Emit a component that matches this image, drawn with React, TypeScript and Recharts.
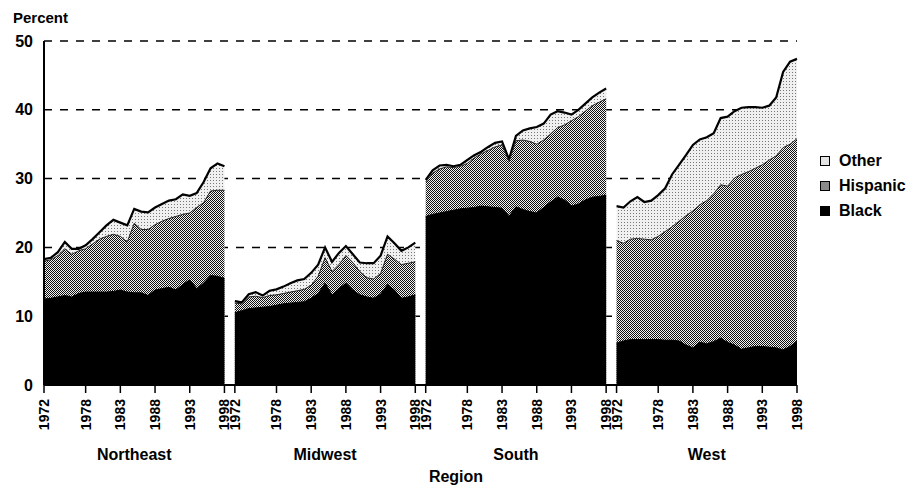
import React from 'react';
import { AreaChart, Area, XAxis, YAxis, CartesianGrid } from 'recharts';

const years = [1972, 1973, 1974, 1975, 1976, 1977, 1978, 1979, 1980, 1981, 1982, 1983, 1984, 1985, 1986, 1987, 1988, 1989, 1990, 1991, 1992, 1993, 1994, 1995, 1996, 1997, 1998];
const tickYears = [1972, 1978, 1983, 1988, 1993, 1998];
const regions = ['Northeast', 'Midwest', 'South', 'West'];
const yTicks = [0, 10, 20, 30, 40, 50];
const seriesNames = ['Other', 'Hispanic', 'Black'];

const northeastBlack = [12.5, 12.6, 12.8, 13.0, 12.8, 13.3, 13.5, 13.5, 13.5, 13.5, 13.6, 13.8, 13.5, 13.4, 13.4, 13.0, 13.8, 14.0, 14.2, 13.8, 14.6, 15.3, 14.0, 14.8, 15.9, 15.8, 15.5];
const northeastHispanic = [5.5, 5.6, 6.0, 6.8, 6.2, 6.2, 6.3, 7.0, 7.7, 8.1, 8.3, 7.8, 7.3, 10.1, 9.2, 9.6, 9.5, 9.8, 10.0, 10.7, 10.2, 9.7, 11.8, 11.7, 12.3, 12.5, 12.8];
const northeastOther = [0.3, 0.3, 0.5, 1.0, 0.8, 0.3, 0.5, 0.7, 1.0, 1.6, 2.1, 2.0, 2.4, 2.1, 2.6, 2.5, 2.5, 2.5, 2.6, 2.5, 2.9, 2.5, 2.1, 3.0, 3.3, 3.9, 3.5];

const midwestBlack = [10.5, 10.8, 11.1, 11.2, 11.3, 11.4, 11.6, 11.8, 11.9, 12.0, 12.1, 12.6, 13.3, 14.8, 13.1, 14.0, 14.8, 13.8, 13.1, 12.8, 12.6, 13.2, 14.6, 13.8, 12.6, 12.8, 13.1];
const midwestHispanic = [1.4, 1.0, 1.7, 1.7, 1.4, 1.6, 1.5, 1.5, 1.6, 1.7, 1.8, 1.9, 2.5, 3.7, 3.4, 3.5, 4.0, 4.0, 3.4, 2.8, 2.8, 3.0, 4.4, 4.5, 4.9, 4.9, 4.8];
const midwestOther = [0.3, 0.2, 0.4, 0.6, 0.3, 0.7, 0.8, 1.0, 1.3, 1.5, 1.5, 1.8, 1.7, 1.5, 1.4, 1.7, 1.4, 1.2, 1.3, 2.1, 2.3, 2.6, 2.6, 2.3, 2.0, 2.3, 2.8];

const southBlack = [24.5, 24.8, 25.0, 25.2, 25.4, 25.6, 25.7, 25.8, 26.0, 25.9, 25.8, 25.7, 24.5, 25.9, 25.5, 25.2, 25.0, 25.8, 26.6, 27.3, 26.9, 26.0, 26.3, 26.9, 27.3, 27.4, 27.6];
const southHispanic = [5.0, 6.0, 6.4, 6.5, 6.2, 6.2, 6.5, 7.2, 7.6, 8.2, 8.8, 9.2, 8.0, 9.6, 10.1, 10.2, 10.0, 9.8, 9.9, 10.1, 10.9, 12.4, 12.7, 12.9, 13.3, 13.7, 14.0];
const southOther = [0.3, 0.4, 0.5, 0.3, 0.2, 0.2, 0.5, 0.4, 0.3, 0.5, 0.6, 0.5, 0.3, 0.7, 1.4, 1.9, 2.5, 2.4, 2.8, 2.4, 1.8, 0.9, 1.0, 1.1, 1.2, 1.4, 1.5];

const westBlack = [6.1, 6.4, 6.6, 6.6, 6.6, 6.6, 6.6, 6.5, 6.5, 6.4, 5.8, 5.4, 6.2, 6.0, 6.3, 6.8, 6.2, 5.8, 5.2, 5.4, 5.6, 5.6, 5.5, 5.4, 5.1, 5.6, 6.4];
const westHispanic = [14.9, 14.2, 14.6, 14.7, 14.6, 14.5, 15.0, 15.8, 16.5, 17.4, 18.8, 19.9, 20.0, 20.8, 21.5, 22.3, 22.7, 24.3, 25.4, 25.6, 25.9, 26.4, 27.2, 27.9, 29.4, 29.4, 29.4];
const westOther = [5.0, 5.2, 5.5, 6.0, 5.4, 5.7, 6.0, 6.3, 7.6, 8.2, 8.8, 9.6, 9.5, 9.2, 8.8, 9.7, 10.1, 9.7, 9.7, 9.4, 8.9, 8.3, 7.9, 8.5, 11.0, 12.0, 11.6];

const regionSeries = [
  { black: northeastBlack, hispanic: northeastHispanic, other: northeastOther },
  { black: midwestBlack, hispanic: midwestHispanic, other: midwestOther },
  { black: southBlack, hispanic: southHispanic, other: southOther },
  { black: westBlack, hispanic: westHispanic, other: westOther },
];

const SPAN = 27.5;
const FIRST = years[0];
const LAST_OFFSET = years[years.length - 1] - FIRST;

type Row = { x: number; black: number | null; hisp: number | null; total: number | null };
const rows: Row[] = [];
regionSeries.forEach((s, r) => {
  years.forEach((yr, i) => {
    const black = s.black[i];
    const hisp = black + s.hispanic[i];
    const total = hisp + s.other[i];
    rows.push({ x: r * SPAN + (yr - FIRST), black, hisp, total });
  });
  if (r < regionSeries.length - 1) {
    rows.push({ x: r * SPAN + LAST_OFFSET + (SPAN - LAST_OFFSET) / 2, black: null, hisp: null, total: null });
  }
});

const xTicks = regions.flatMap((_, r) => tickYears.map((y) => r * SPAN + (y - FIRST)));

const FONT = '"Liberation Sans", Arial, Helvetica, sans-serif';

const XTick = (props: any) => {
  const { x, y, payload } = props;
  const v = payload.value as number;
  const r = Math.floor((v + 0.001) / SPAN);
  const year = Math.round(FIRST + v - r * SPAN);
  return (
    <text
      x={x}
      y={y}
      transform={`rotate(-90, ${x}, ${y})`}
      textAnchor="end"
      dy={5}
      fontSize={14}
      fontWeight={700}
      fontFamily={FONT}
      fill="#000"
    >
      {year}
    </text>
  );
};

const legendFills: Record<string, string> = {
  Other: '#e4e4e4',
  Hispanic: '#8a8a8a',
  Black: '#000',
};

export default function App() {
  const W = 913;
  const H = 488;
  const plotLeft = 44;
  const plotRight = 797;
  const pxPerUnit = (plotRight - plotLeft) / (3 * SPAN + LAST_OFFSET);
  return (
    <div style={{ position: 'fixed', left: 0, top: 0, width: W, height: H, background: '#fff', fontFamily: FONT }}>
      <AreaChart
        width={W}
        height={H}
        data={rows}
        margin={{ top: 41, right: 0, bottom: 0, left: 0 }}
      >
        <defs>
          <pattern id="patHisp" width="2" height="2" patternUnits="userSpaceOnUse">
            <rect width="2" height="2" fill="#f2f2f2" />
            <rect x="0" y="0" width="1" height="1" fill="#111111" />
            <rect x="1" y="1" width="1" height="1" fill="#111111" />
          </pattern>
          <pattern id="patOther" width="3" height="3" patternUnits="userSpaceOnUse">
            <rect width="3" height="3" fill="#f0f0f0" />
            <rect x="0" y="0" width="1" height="1" fill="#777777" />
          </pattern>
        </defs>
        <CartesianGrid
          yAxisId="left"
          vertical={false}
          stroke="#000"
          strokeWidth={1.5}
          strokeDasharray="8 8"
        />
        <XAxis
          dataKey="x"
          type="number"
          domain={[0, 3 * SPAN + LAST_OFFSET]}
          ticks={xTicks}
          interval={0}
          height={103}
          axisLine={{ stroke: '#000', strokeWidth: 2 }}
          tickLine={{ stroke: '#000', strokeWidth: 1.5 }}
          tickSize={8}
          tickMargin={6}
          tick={<XTick />}
          allowDecimals
        />
        <YAxis
          yAxisId="left"
          domain={[0, 50]}
          ticks={yTicks}
          width={plotLeft}
          axisLine={{ stroke: '#000', strokeWidth: 2 }}
          tickLine={false}
          tickSize={6}
          tickMargin={5}
          tick={{ fill: '#000', fontSize: 16, fontWeight: 700, fontFamily: FONT }}
        />
        <YAxis
          yAxisId="right"
          orientation="right"
          domain={[0, 50]}
          ticks={[10, 20, 30, 40]}
          width={W - plotRight}
          axisLine={false}
          tick={false}
          tickLine={{ stroke: '#000', strokeWidth: 1.5 }}
          tickSize={7}
        />
        <Area
          yAxisId="left"
          name={seriesNames[0]}
          dataKey="total"
          type="linear"
          fill="url(#patOther)"
          fillOpacity={1}
          stroke="#000"
          strokeWidth={2.2}
          isAnimationActive={false}
          connectNulls={false}
          dot={false}
          activeDot={false}
        />
        <Area
          yAxisId="left"
          name={seriesNames[1]}
          dataKey="hisp"
          type="linear"
          fill="url(#patHisp)"
          fillOpacity={1}
          stroke="#222"
          strokeWidth={1}
          isAnimationActive={false}
          connectNulls={false}
          dot={false}
          activeDot={false}
        />
        <Area
          yAxisId="left"
          name={seriesNames[2]}
          dataKey="black"
          type="linear"
          fill="#000"
          fillOpacity={1}
          stroke="#000"
          strokeWidth={1}
          isAnimationActive={false}
          connectNulls={false}
          dot={false}
          activeDot={false}
        />
      </AreaChart>

      <div style={{ position: 'absolute', left: 13, top: 9, fontSize: 15, fontWeight: 700, lineHeight: '18px', color: '#000' }}>
        Percent
      </div>

      {regions.map((name, r) => {
        const center = plotLeft + (r * SPAN + LAST_OFFSET / 2) * pxPerUnit;
        return (
          <div
            key={name}
            style={{
              position: 'absolute',
              left: center - 60,
              width: 120,
              top: 446,
              textAlign: 'center',
              fontSize: 16,
              fontWeight: 700,
              lineHeight: '18px',
              color: '#000',
            }}
          >
            {name}
          </div>
        );
      })}

      <div
        style={{
          position: 'absolute',
          left: 396,
          width: 120,
          top: 468,
          textAlign: 'center',
          fontSize: 16,
          fontWeight: 700,
          lineHeight: '18px',
          color: '#000',
        }}
      >
        Region
      </div>

      <div style={{ position: 'absolute', left: 820, top: 148 }}>
        {seriesNames.map((n) => (
          <div key={n} style={{ display: 'flex', alignItems: 'center', height: 25 }}>
            <span
              style={{
                display: 'inline-block',
                width: 8,
                height: 8,
                background: legendFills[n],
                border: '1px solid #000',
                marginRight: 9,
              }}
            />
            <span style={{ fontSize: 16, fontWeight: 700, color: '#000', lineHeight: '18px' }}>{n}</span>
          </div>
        ))}
      </div>
    </div>
  );
}
